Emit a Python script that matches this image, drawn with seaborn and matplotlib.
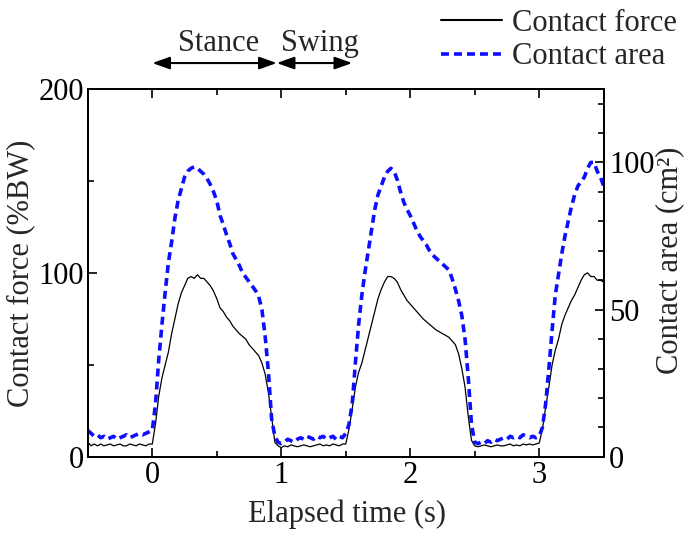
import numpy as np
import pandas as pd
import matplotlib
matplotlib.use("Agg")
import matplotlib.pyplot as plt
import seaborn as sns
from matplotlib.lines import Line2D
from matplotlib.ticker import MultipleLocator
import matplotlib.transforms as mtransforms

sns.set_style("ticks")
plt.rcParams["font.family"] = ["Liberation Serif", "DejaVu Serif"]

# ---- data ----
time_s = np.round(np.arange(-0.5, 3.5001, 0.025), 3)

force_bw = [
    # -0.500 .. -0.025
    8, 6, 7, 6, 7, 6, 6.5, 7, 6, 6.5, 7, 6, 6, 7, 6.5, 6, 7, 6.5, 6, 7,
    # 0.000 .. 0.950
    7, 18, 33, 43, 50, 57, 67, 75, 83, 89, 93, 97, 98, 97, 99, 97, 97, 95, 93, 90,
    86, 81, 79, 76, 74, 71, 69, 67, 65.5, 64, 61, 59, 57, 55, 51, 45, 35, 22, 8,
    # 0.975 .. 1.475
    6, 5, 6, 5.5, 6.5, 6, 5.5, 6, 6.5, 6, 5.5, 6, 6.5, 7, 6, 6.5, 6, 7, 6.5, 6, 7,
    # 1.500 .. 2.475
    7, 15, 26, 38, 46, 51, 58, 65, 72, 79, 86, 91, 95, 98, 98, 97, 95, 91, 88, 85,
    83, 81, 79, 77, 75, 73.5, 72, 70.5, 69, 68, 67, 66, 65, 63, 61, 56, 48, 38, 22, 9,
    # 2.500 .. 2.975
    6, 5.5, 6, 6.5, 6, 5.5, 6, 6.5, 6, 6, 6.5, 7, 6, 6.5, 6, 7, 6.5, 7, 6.5, 7,
    # 3.000 .. 3.500
    7.5, 15, 27, 38, 50, 58, 64, 72, 77, 81, 85, 88, 92, 96, 99, 100, 98, 98, 96, 96, 95,
]

area_cm2 = [
    # -0.500 .. -0.025
    9, 8, 7, 7.5, 6.5, 7, 6, 6.5, 7, 6, 6.5, 7, 7.5, 6.5, 7, 7.5, 8, 7.5, 8, 8.5,
    # 0.000 .. 0.950
    9, 18, 33, 45, 56, 66, 73, 81, 87, 91, 95, 97, 98, 98.5, 98, 97, 96, 94.5, 92.5, 90,
    87, 82, 79, 75.5, 72.5, 69, 67, 65, 62.5, 61, 59.5, 58, 56.5, 54.5, 50, 41, 29, 13, 7,
    # 0.975 .. 1.475
    5, 4.5, 5, 6, 5.5, 5, 6, 6.5, 6, 7, 6.5, 6, 7, 6.5, 7, 6, 6.5, 7, 6, 7, 6.5,
    # 1.500 .. 2.475
    8, 11, 18, 32, 45, 55, 63, 70, 77, 84, 89, 92, 95, 97, 98, 97, 94, 90, 86.5, 84,
    82, 79.5, 77, 75, 73.5, 72, 70, 68.5, 67.5, 66.5, 65.5, 64.5, 63.5, 60.5, 57, 53, 48, 40, 27, 11,
    # 2.500 .. 2.975
    5, 4.5, 5, 4.5, 5.5, 5, 6, 5.5, 6, 6.5, 6, 7, 6.5, 7, 6.5, 7.5, 7, 6.5, 7, 6.5,
    # 3.000 .. 3.500
    7, 10, 18, 30, 43, 55, 62, 69, 75, 80, 85, 89, 92, 93.5, 95, 98, 100, 100, 97, 95, 92,
]

phase_labels = ["Stance", "Swing"]
phase_bounds = [(0.0, 0.965), (0.965, 1.55)]
legend_labels = ["Contact force", "Contact area"]

df = pd.DataFrame({"time": time_s, "force": force_bw, "area": area_cm2})

BLUE = "#0d0dff"
DASH = (0, (2.2, 1.4))
FS = 22

fig = plt.figure(figsize=(6.86, 5.35), dpi=100)
ax = fig.add_axes([0.128, 0.146, 0.752, 0.688])
ax2 = ax.twinx()

sns.lineplot(data=df, x="time", y="force", ax=ax, color="black", lw=0.9)
sns.lineplot(data=df, x="time", y="area", ax=ax2, color=BLUE, lw=2.6, linestyle=DASH)

ax.set_xlim(-0.5, 3.5)
ax.set_ylim(0, 200)
ax2.set_ylim(0, 125)

ax.xaxis.set_major_locator(MultipleLocator(1))
ax.xaxis.set_minor_locator(MultipleLocator(0.5))
ax.yaxis.set_major_locator(MultipleLocator(100))
ax.yaxis.set_minor_locator(MultipleLocator(50))
ax2.yaxis.set_major_locator(MultipleLocator(50))
ax2.yaxis.set_minor_locator(MultipleLocator(10))

for a in (ax, ax2):
    for s in a.spines.values():
        s.set_linewidth(1.4)
        s.set_color("black")
ax.tick_params(axis="both", which="both", direction="in", top=True, right=False,
               labelsize=FS, width=1.2, colors="black", pad=3)
ax.tick_params(which="major", length=6.5)
ax.tick_params(which="minor", length=4)
ax2.tick_params(axis="y", which="both", direction="in", right=True, left=False,
                labelsize=FS, width=1.2, colors="black", pad=4)
ax2.tick_params(which="major", length=6.5)
ax2.tick_params(which="minor", length=4)

ax.set_xlabel("Elapsed time (s)", fontsize=FS)
ax.set_ylabel("Contact force (%BW)", fontsize=FS)
ax2.set_ylabel("Contact area (cm²)", fontsize=FS)
ax.xaxis.label.set_va("center")
ax.yaxis.label.set_va("center")
ax2.yaxis.label.set_va("center")
ax.xaxis.set_label_coords(0.502, -0.155)
ax.yaxis.set_label_coords(-0.131, 0.5)
ax2.yaxis.set_label_coords(1.128, 0.535)

# phase arrows and labels
trans = mtransforms.blended_transform_factory(ax.transData, ax.transAxes)
for lab, (x0, x1) in zip(phase_labels, phase_bounds):
    ax.annotate("", xy=(x0, 1.07), xytext=(x1, 1.07), xycoords=trans, textcoords=trans,
                arrowprops=dict(arrowstyle="<|-|>,head_length=0.7,head_width=0.25",
                                color="black", lw=1.5, mutation_scale=15,
                                shrinkA=0, shrinkB=0),
                annotation_clip=False)
ax.text(0.51, 1.123, phase_labels[0], transform=trans, ha="center", va="center", fontsize=FS)
ax.text(1.30, 1.123, phase_labels[1], transform=trans, ha="center", va="center", fontsize=FS)

handles = [Line2D([], [], color="black", lw=1.5),
           Line2D([], [], color=BLUE, lw=2.6, linestyle=DASH)]
fig.legend(handles, legend_labels, loc="upper right", bbox_to_anchor=(0.995, 0.995),
           frameon=False, fontsize=FS, handlelength=2.0, handletextpad=0.3,
           labelspacing=0.15, borderaxespad=0.0, borderpad=0.2)

fig.savefig("out.png", dpi=100)
